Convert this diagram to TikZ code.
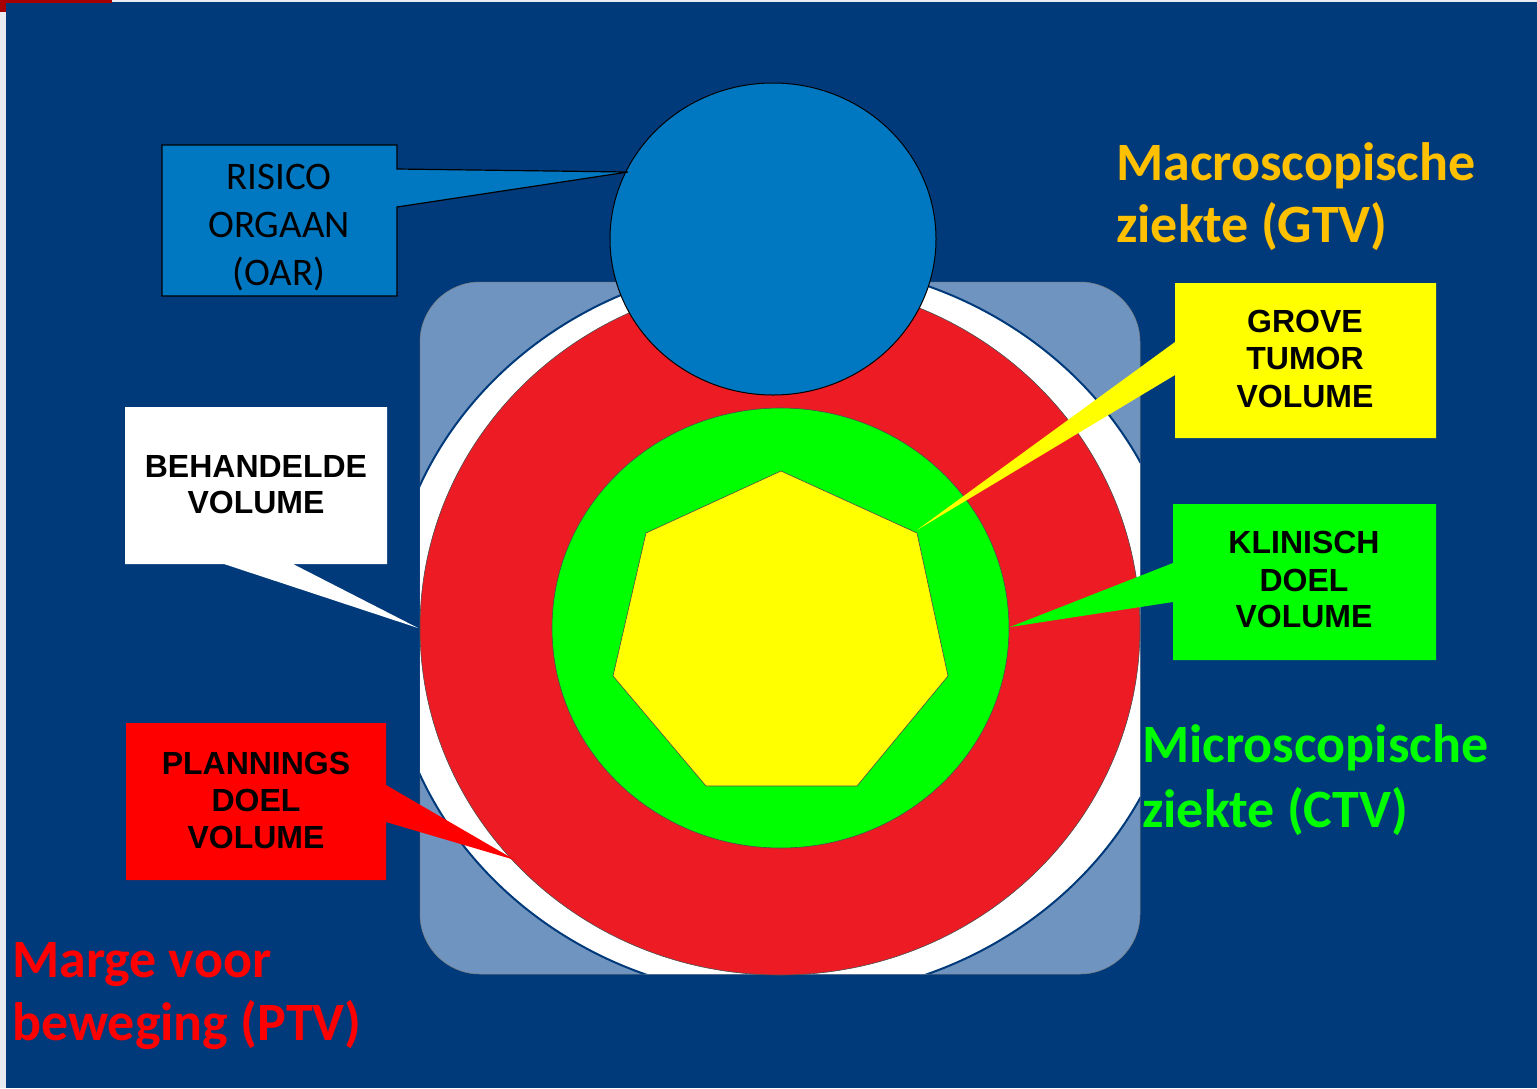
\documentclass[tikz,border=0pt]{standalone}
\usepackage{fontspec}
\setmainfont{Carlito}
\newfontfamily\arialf{Liberation Sans}
\usetikzlibrary{shapes.geometric}
\definecolor{bg}{RGB}{0,58,123}
\definecolor{steel}{RGB}{112,148,192}
\definecolor{oarblue}{RGB}{0,120,193}
\definecolor{ptvred}{RGB}{237,28,36}
\definecolor{boxred}{RGB}{255,0,0}
\definecolor{ctvgreen}{RGB}{0,255,0}
\definecolor{gtvyellow}{RGB}{255,255,0}
\definecolor{gold}{RGB}{255,192,0}
\definecolor{stripe}{RGB}{232,236,242}
\tikzset{
  calibox/.style={inner sep=0pt, font=\fontsize{39}{48}\selectfont, text=black, anchor=base},
  arialbox/.style={inner sep=0pt, font=\arialf\bfseries\fontsize{32}{37}\selectfont, text=black, anchor=base},
  biglabel/.style={inner sep=0pt, font=\bfseries\fontsize{54}{63}\selectfont, anchor=base west},
  thinline/.style={draw=black!70, line width=0.6pt}
}
\begin{document}
\begin{tikzpicture}[x=1pt,y=-1pt]
\useasboundingbox (0,0) rectangle (1537,1088);
% background
\fill[bg] (0,0) rectangle (1537,1088);
\fill[stripe] (0,0) rectangle (6,1088);
\fill[stripe] (112,0) rectangle (1537,1.5);
\fill[red!65!black] (0,0) rectangle (112,3);
\fill[red!65!black] (0,0) rectangle (6,12);

% rounded square
\path[fill=steel, draw=black!50, line width=0.5pt, rounded corners=60pt] (420,282) rectangle (1140,974);
% white treated volume, clipped to the square
\begin{scope}
  \clip[rounded corners=60pt] (420,282) rectangle (1140,974);
  \path[fill=white, draw=bg, line width=2pt] (786,630) ellipse [x radius=398, y radius=368];
\end{scope}
% PTV
\path[fill=ptvred, thinline] (780,628) ellipse [x radius=360, y radius=347];
% CTV
\path[fill=ctvgreen, thinline] (780.5,628) ellipse [x radius=228.5, y radius=220];
% GTV heptagon
\path[fill=gtvyellow, thinline] (781,471) -- (917,533) -- (948,676) -- (857,786) -- (706,786) -- (613,676) -- (646,533) -- cycle;
% OAR
\node (oar) [ellipse, fill=oarblue, draw=black, line width=1pt, minimum width=326pt, minimum height=312pt, inner sep=0pt] at (773,239) {};

% callout tips
\coordinate (tipoar) at (628,172);
\coordinate (tipbeh) at (418,628);
\coordinate (tipptv) at (515,860);
\coordinate (tipgtv) at (917,530);
\coordinate (tipctv) at (1010,627);

% OAR callout
\path[fill=oarblue, draw=black, line width=1.2pt] (162,145) -- (397,145) -- (397,169) -- (tipoar) -- (397,207) -- (397,296) -- (162,296) -- cycle;
\node[calibox] (oar1) at (279,189) {RISICO};
\node[calibox] (oar2) at (279,237) {ORGAAN};
\node[calibox] (oar3) at (279,285) {(OAR)};

% treated volume callout
\path[fill=white] (125,407) -- (387,407) -- (387,564) -- (293,564) -- (tipbeh) -- (224,564) -- (125,564) -- cycle;
\node[arialbox] (beh1) at (256,477) {BEHANDELDE};
\node[arialbox] (beh2) at (256,513) {VOLUME};

% PTV callout
\path[fill=boxred] (126,723) -- (386,723) -- (386,785) -- (tipptv) -- (386,822) -- (386,880) -- (126,880) -- cycle;
\node[arialbox] (ptv1) at (256,774) {PLANNINGS};
\node[arialbox] (ptv2) at (256,811) {DOEL};
\node[arialbox] (ptv3) at (256,848) {VOLUME};

% GTV callout
\path[fill=gtvyellow] (1175,283) -- (1436,283) -- (1436,438) -- (1175,438) -- (1175,375) -- (tipgtv) -- (1175,342) -- cycle;
\node[arialbox] (gtv1) at (1305,332) {GROVE};
\node[arialbox] (gtv2) at (1305,369) {TUMOR};
\node[arialbox] (gtv3) at (1305,407) {VOLUME};

% CTV callout
\path[fill=ctvgreen] (1173,504) -- (1436,504) -- (1436,660) -- (1173,660) -- (1173,602) -- (tipctv) -- (1173,563) -- cycle;
\node[arialbox] (ctv1) at (1304,553) {KLINISCH};
\node[arialbox] (ctv2) at (1304,591) {DOEL};
\node[arialbox] (ctv3) at (1304,627) {VOLUME};

% big labels
\node[biglabel, text=gold] (mac1) at (1116,180) {Macroscopische};
\node[biglabel, text=gold] (mac2) at (1116,242) {ziekte (GTV)};
\node[biglabel, text=ctvgreen] (mic1) at (1142,762) {Microscopische};
\node[biglabel, text=ctvgreen] (mic2) at (1142,827) {ziekte (CTV)};
\node[biglabel, text=boxred] (mar1) at (12,977) {Marge voor};
\node[biglabel, text=boxred] (mar2) at (12,1040) {beweging (PTV)};
\end{tikzpicture}
\end{document}
